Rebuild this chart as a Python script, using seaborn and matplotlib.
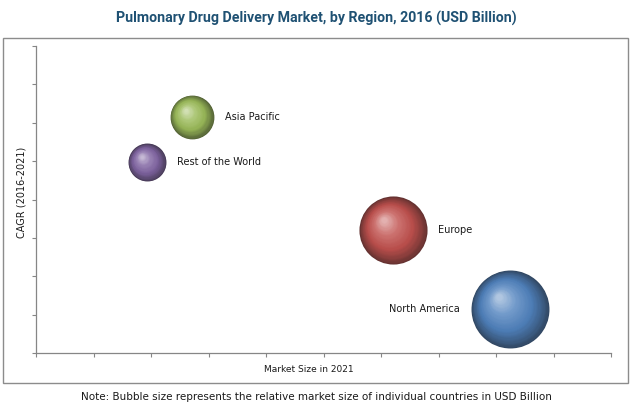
import numpy as np
import pandas as pd
import matplotlib
matplotlib.use("Agg")
import matplotlib.pyplot as plt
import matplotlib.transforms as mtransforms
from matplotlib.patches import Rectangle
import seaborn as sns

# ---- data ----
regions = ["Asia Pacific", "Rest of the World", "Europe", "North America"]
market_size = [2.71, 1.93, 6.21, 8.24]      # x: Market Size in 2021 (relative units)
cagr = [6.15, 4.97, 3.20, 1.15]             # y: CAGR (2016-2021) (relative units)
bubble = [4.8, 3.6, 11.6, 15.2]             # relative bubble size
colors = ["#9BBB59", "#8064A2", "#C0504D", "#4F81BD"]

title = "Pulmonary Drug Delivery Market, by Region, 2016 (USD Billion)"
xlabel = "Market Size in 2021"
ylabel = "CAGR (2016-2021)"
note = "Note: Bubble size represents the relative market size of individual countries in USD Billion"

df = pd.DataFrame({"region": regions, "x": market_size, "y": cagr, "size": bubble})

sns.set_theme(style="white")
plt.rcParams["font.family"] = ["DejaVu Sans"]

fig = plt.figure(figsize=(6.32, 4.13), dpi=100)
ax = fig.add_axes([36 / 632, 1 - 353 / 413, 575 / 632, 307 / 413])
ax.set_xlim(0, 10)
ax.set_ylim(0, 8)

SMAX = 3150.0
smax_val = max(bubble)


def blend(c, target, f):
    c = np.array(matplotlib.colors.to_rgb(c))
    t = np.array(matplotlib.colors.to_rgb(target))
    return tuple(c + (t - c) * f)


def shade(base, t):
    # t: 0 at rim, 1 at highlight
    pts = [(0.0, ("k", 0.55)), (0.12, ("k", 0.35)), (0.35, ("k", 0.05)),
           (0.7, ("w", 0.2)), (1.0, ("w", 0.55))]
    for (t0, (c0, f0)), (t1, (c1, f1)) in zip(pts[:-1], pts[1:]):
        if t0 <= t <= t1:
            u = (t - t0) / (t1 - t0)
            a = blend(base, c0, f0)
            b = blend(base, c1, f1)
            return tuple(np.array(a) + (np.array(b) - np.array(a)) * u)
    return blend(base, "w", 0.55)


n_layers = 40
for k in range(n_layers):
    t = k / (n_layers - 1)
    scale = (1 - 0.92 * t)
    pal = {r: shade(c, t) for r, c in zip(regions, colors)}
    for i, r in enumerate(regions):
        R = np.sqrt(SMAX * bubble[i] / smax_val) / 2.0
        dx = -0.28 * R * t
        dy = 0.30 * R * t
        tr = mtransforms.offset_copy(ax.transData, fig=fig, x=dx, y=dy, units="points")
        sns.scatterplot(data=df[df.region == r], x="x", y="y", size="size",
                        sizes=(0, SMAX * scale ** 2), size_norm=(0, smax_val),
                        hue="region", palette=pal, legend=False, linewidth=0,
                        ax=ax, transform=tr, zorder=3 + k * 0.01)

# labels
offsets = {"Asia Pacific": (1, "left"), "Rest of the World": (1, "left"),
           "Europe": (1, "left"), "North America": (-1, "right")}
for i, r in enumerate(regions):
    R = np.sqrt(SMAX * bubble[i] / smax_val) / 2.0
    sgn, ha = offsets[r]
    tr = mtransforms.offset_copy(ax.transData, fig=fig, x=sgn * (R + 8), y=0, units="points")
    ax.text(market_size[i], cagr[i], r, transform=tr, ha=ha, va="center",
            fontsize=7, color="#1a1a1a", zorder=10)

ax.set_xticks(np.arange(0, 11, 1))
ax.set_yticks(np.arange(0, 9, 1))
ax.set_xticklabels([])
ax.set_yticklabels([])
ax.set_xlabel(xlabel, fontsize=6.5, color="#1a1a1a")
ax.set_ylabel(ylabel, fontsize=7, color="#1a1a1a")
ax.xaxis.set_label_coords((309 - 36) / 575, (353 - 365) / 307)
ax.yaxis.set_label_coords((27 - 36) / 575, (353 - 192) / 307)
for s in ["top", "right"]:
    ax.spines[s].set_visible(False)
for s in ["left", "bottom"]:
    ax.spines[s].set_color("#868686")
    ax.spines[s].set_linewidth(0.9)
ax.tick_params(axis="both", which="both", direction="out", length=3,
               width=0.8, color="#868686", bottom=True, left=True)

# outer frame
fig.patches.append(Rectangle((3 / 632, 1 - 383 / 413), 625 / 632, 345 / 413,
                             transform=fig.transFigure, fill=False,
                             edgecolor="#8c8c8c", linewidth=1.0, zorder=0))

fig.text(0.5, 1 - 18 / 413, title, ha="center", va="center",
         fontsize=10.2, fontweight="bold", color="#1F5173",
         family=["Roboto", "DejaVu Sans"])
fig.text(0.5, 1 - 397 / 413, note, ha="center", va="center",
         fontsize=7.5, color="#1a1a1a")

fig.savefig("out.png", dpi=100, facecolor="white")
